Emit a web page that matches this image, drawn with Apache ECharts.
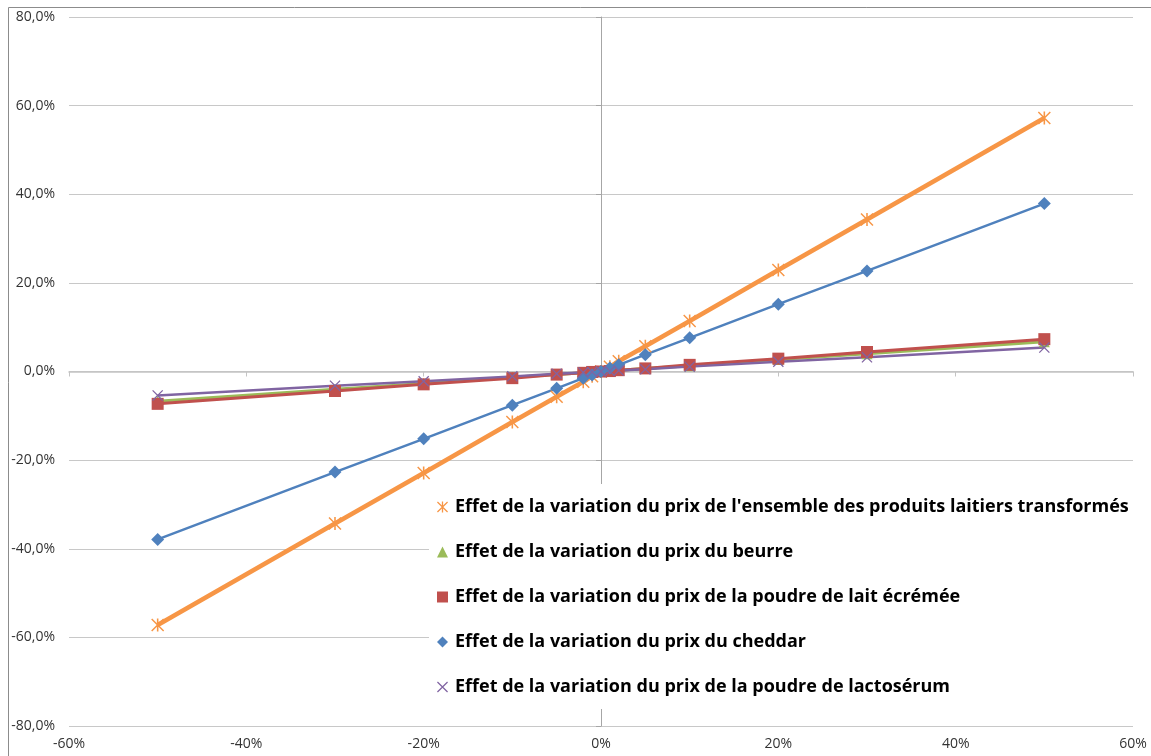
<!DOCTYPE html>
<html>
<head>
<meta charset="utf-8">
<script src="https://cdn.jsdelivr.net/npm/echarts@6/dist/echarts.min.js"></script>
<style>
  html, body { margin: 0; padding: 0; background: #fff; }
  #chart { width: 1151px; height: 756px; }
</style>
</head>
<body>
<div id="chart"></div>
<script>
// Variation du prix (%) appliquée à chaque produit
const priceChange = [-50, -30, -20, -10, -5, -2, -1, 0, 1, 2, 5, 10, 20, 30, 50];

// Effet résultant (%) pour chaque scénario
const effetEnsemble = [-57.2, -34.3, -22.9, -11.4, -5.7, -2.3, -1.1, 0, 1.1, 2.3, 5.7, 11.4, 22.9, 34.3, 57.2];
const effetBeurre = [-6.7, -4.0, -2.7, -1.3, -0.7, -0.3, -0.1, 0, 0.1, 0.3, 0.7, 1.3, 2.7, 4.0, 6.7];
const effetPoudreLait = [-7.3, -4.4, -2.9, -1.5, -0.7, -0.3, -0.1, 0, 0.1, 0.3, 0.7, 1.5, 2.9, 4.4, 7.3];
const effetCheddar = [-37.9, -22.7, -15.2, -7.6, -3.8, -1.5, -0.8, 0, 0.8, 1.5, 3.8, 7.6, 15.2, 22.7, 37.9];
const effetLactoserum = [-5.4, -3.2, -2.2, -1.1, -0.5, -0.2, -0.1, 0, 0.1, 0.2, 0.5, 1.1, 2.2, 3.2, 5.4];

const seriesNames = [
  "Effet de la variation du prix de l'ensemble des produits laitiers transformés",
  "Effet de la variation du prix du beurre",
  "Effet de la variation du prix de la poudre de lait écrémée",
  "Effet de la variation du prix du cheddar",
  "Effet de la variation du prix de la poudre de lactosérum"
];

const xTicks = { min: -60, max: 60, interval: 20 };
const yTicks = { min: -80, max: 80, interval: 20 };

// Marker shapes
const starPath = 'path://M4.4,0H5.6V10H4.4Z M0,0.8L0.8,0L10,9.2L9.2,10Z M9.2,0L10,0.8L0.8,10L0,9.2Z';
const crossPath = 'path://M0,0.8L0.8,0L10,9.2L9.2,10Z M9.2,0L10,0.8L0.8,10L0,9.2Z';

const toPoints = (ys) => priceChange.map((x, i) => [x, ys[i]]);

const FONT = '"Open Sans", "Noto Sans", sans-serif';
const AXIS_GREY = '#a6a6a6';

function lineSeries(name, values, color, width, symbol, size) {
  return {
    name: name,
    type: 'line',
    xAxisIndex: 0,
    yAxisIndex: 0,
    data: toPoints(values),
    symbol: symbol,
    symbolSize: size,
    showAllSymbol: true,
    lineStyle: { color: color, width: width },
    itemStyle: { color: color, borderWidth: 0 },
    emphasis: { disabled: true },
    z: 3
  };
}

const chart = echarts.init(document.getElementById('chart'), null, { renderer: 'canvas' });

chart.setOption({
  animation: false,
  backgroundColor: '#ffffff',
  textStyle: { fontFamily: FONT },
  grid: { left: 69, right: 18, top: 17, bottom: 30, containLabel: false },
  graphic: [{
    type: 'rect',
    shape: { x: 8.5, y: 7.5, width: 1200, height: 800 },
    style: { fill: 'none', stroke: '#8c8c8c', lineWidth: 1 },
    silent: true,
    z: -10
  }],
  xAxis: [{
    type: 'value',
    min: xTicks.min, max: xTicks.max, interval: xTicks.interval,
    position: 'bottom',
    axisLine: { show: false, onZero: false },
    axisTick: { show: false },
    splitLine: { show: false },
    axisLabel: {
      margin: 11, fontSize: 14, color: '#333333', fontFamily: FONT,
      formatter: (v) => v + '%'
    }
  }, {
    type: 'value',
    min: xTicks.min, max: xTicks.max, interval: xTicks.interval,
    position: 'bottom',
    axisLine: { show: true, onZero: true, onZeroAxisIndex: 0, lineStyle: { color: '#c4c4c4', width: 1.5 } },
    axisTick: { show: true, length: 5, lineStyle: { color: '#c4c4c4' } },
    axisLabel: { show: false },
    splitLine: { show: false }
  }],
  yAxis: [{
    type: 'value',
    min: yTicks.min, max: yTicks.max, interval: yTicks.interval,
    position: 'left',
    axisLine: { show: false, onZero: false },
    axisTick: { show: false },
    splitLine: { show: true, lineStyle: { color: '#c8c8c8', width: 1 } },
    axisLabel: {
      margin: 14, fontSize: 14, color: '#333333', fontFamily: FONT,
      formatter: (v) => v.toFixed(1).replace('.', ',') + '%'
    }
  }, {
    type: 'value',
    min: yTicks.min, max: yTicks.max, interval: yTicks.interval,
    position: 'left',
    axisLine: { show: true, onZero: true, onZeroAxisIndex: 0, lineStyle: { color: AXIS_GREY, width: 1 } },
    axisTick: { show: true, length: 5, lineStyle: { color: AXIS_GREY } },
    axisLabel: { show: false },
    splitLine: { show: false }
  }],
  legend: {
    orient: 'vertical',
    left: 429,
    top: 484,
    padding: [13, 10, 12, 8],
    backgroundColor: '#ffffff',
    itemWidth: 11,
    itemHeight: 11,
    itemGap: 25,
    selectedMode: false,
    z: 10,
    textStyle: {
      fontFamily: FONT, fontWeight: 'bold', fontSize: 18, color: '#000000',
      lineHeight: 20, padding: [0, 0, 0, 2]
    },
    data: [
      { name: seriesNames[0], icon: starPath, itemStyle: { color: '#f79646' } },
      { name: seriesNames[1], icon: 'triangle', itemStyle: { color: '#9bbb59' } },
      { name: seriesNames[2], icon: 'rect', itemStyle: { color: '#c0504d' } },
      { name: seriesNames[3], icon: 'diamond', itemStyle: { color: '#4f81bd' } },
      { name: seriesNames[4], icon: crossPath, itemStyle: { color: '#8064a2' } }
    ]
  },
  series: [
    lineSeries(seriesNames[0], effetEnsemble, '#f79646', 4.5, starPath, 13),
    lineSeries(seriesNames[1], effetBeurre, '#9bbb59', 3, 'triangle', 11),
    lineSeries(seriesNames[2], effetPoudreLait, '#c0504d', 3, 'rect', 12),
    lineSeries(seriesNames[3], effetCheddar, '#4f81bd', 2.5, 'diamond', 13),
    lineSeries(seriesNames[4], effetLactoserum, '#8064a2', 2.5, crossPath, 11)
  ]
});
</script>
</body>
</html>
